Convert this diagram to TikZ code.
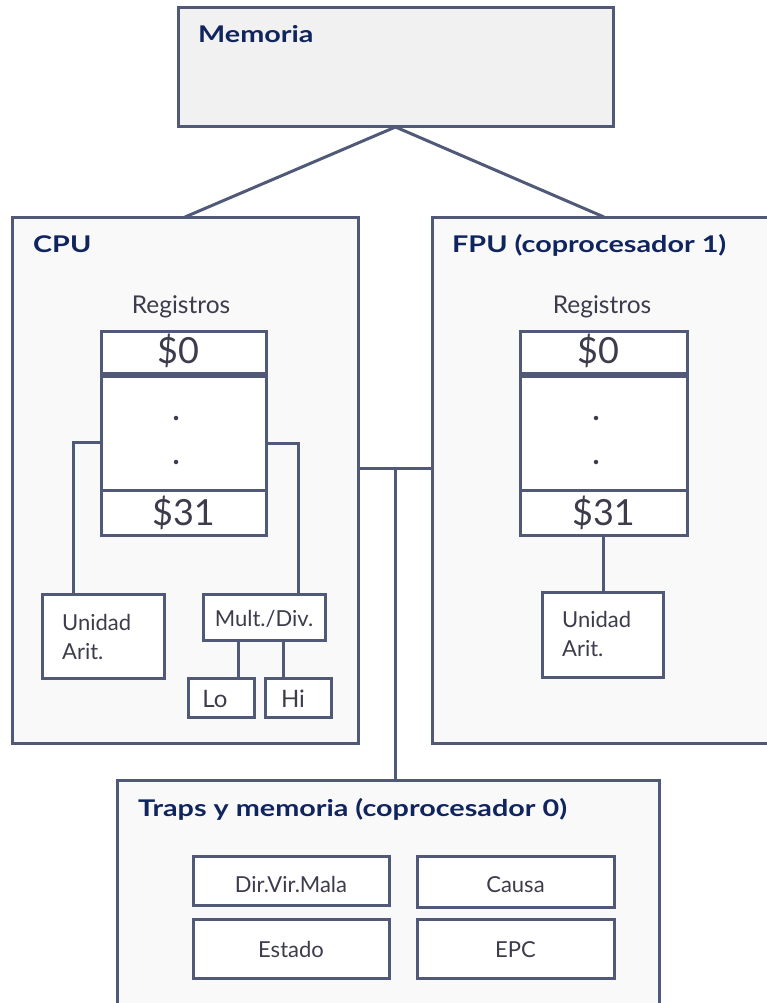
\documentclass[tikz,border=0pt]{standalone}
\usepackage{fontspec}
\setmainfont{Lato}
\newfontfamily\titlefont[FakeStretch=1.25]{Lato}
\definecolor{ln}{HTML}{505A78}
\definecolor{ttl}{HTML}{10245E}
\definecolor{txt}{HTML}{3C3C4C}
\definecolor{outerfill}{HTML}{F9F9FA}
\definecolor{memfill}{HTML}{F1F1F1}
\newcommand\bx[6]{\node[#1, minimum width={#4pt-#2pt}, minimum height={#5pt-#3pt}] (#6) at ({(#2+#4)/2},{(#3+#5)/2}) {};}
\begin{document}
\begin{tikzpicture}[x=1pt,y=-1pt,
  frame/.style={draw=ln, line width=3pt, fill=outerfill, rectangle, inner sep=0pt, outer sep=0pt},
  ibox/.style={draw=ln, line width=3pt, fill=white, rectangle, inner sep=0pt, outer sep=0pt},
  wire/.style={draw=ln, line width=3pt},
  title/.style={anchor=base west, inner sep=0pt, text=ttl, font=\titlefont\fontsize{23}{27}\selectfont\bfseries},
  lbl/.style={inner sep=0pt, text=txt, font=\fontsize{22}{26}\selectfont},
  reglbl/.style={inner sep=0pt, text=txt, font=\fontsize{24.5}{28}\selectfont},
  small/.style={inner sep=0pt, text=txt, font=\fontsize{24}{28}\selectfont},
  big/.style={inner sep=0pt, text=txt, font=\fontsize{36}{40}\selectfont},
  dotmark/.style={circle, fill=txt, inner sep=0pt, minimum size=4.5pt},
]
\useasboundingbox (0,0) rectangle (767,1003);
\clip (0,0) rectangle (767,1003);
% frames
\bx{frame,fill=memfill}{178}{8}{613}{127}{mem}
\bx{frame}{12}{217}{358}{743}{cpu}
\bx{frame}{432}{217}{776}{743}{fpu}
\bx{frame}{117}{780}{659}{1030}{traps}
% connectors
\coordinate (bus) at (395,468);
\coordinate (cl) at (73,442);
\coordinate (cr) at (298,443);
\coordinate (clo) at (238,660);
\coordinate (chi) at (283,660);
\draw[wire] (mem.south) -- (cpu.north);
\draw[wire] (mem.south) -- (fpu.north);
\draw[wire] (cpu.east |- bus) -- (fpu.west |- bus);
\draw[wire] (bus) -- (bus |- traps.north);
% CPU registers
\bx{ibox}{101}{331}{266}{373}{reg0}
\bx{ibox}{101}{376}{266}{490}{regmid}
\bx{ibox}{101}{490}{266}{535}{reg31}
\bx{ibox}{42}{594}{164}{678}{cua}
\bx{ibox}{203}{594}{325}{640}{mult}
\bx{ibox}{188}{678}{254}{717}{lo}
\bx{ibox}{265}{678}{331}{717}{hi}
\draw[wire] (regmid.west |- cl) -- (cl) -- (cl |- cua.north);
\draw[wire] (regmid.east |- cr) -- (cr) -- (cr |- mult.north);
\draw[wire] (clo |- mult.south) -- (clo |- lo.north);
\draw[wire] (chi |- mult.south) -- (chi |- hi.north);
% FPU registers
\bx{ibox}{520}{331}{687}{373}{freg0}
\bx{ibox}{520}{376}{687}{490}{fregmid}
\bx{ibox}{520}{490}{687}{535}{freg31}
\bx{ibox}{542}{592}{663}{677}{fua}
\draw[wire] (freg31.south) -- (freg31.south |- fua.north);
% traps registers
\bx{ibox}{193}{856}{389}{905}{dvm}
\bx{ibox}{417}{856}{614}{907}{causa}
\bx{ibox}{193}{919}{389}{978}{estado}
\bx{ibox}{417}{919}{614}{978}{epc}
% titles
\node[title] (tmem) at (198,43) {Memoria};
\node[title] (tcpu) at (33,252) {CPU};
\node[title] (tfpu) at (452,252) {FPU (coprocesador 1)};
\node[title] (ttraps) at (138,816) {Traps y memoria (coprocesador 0)};
% CPU texts
\node[reglbl, anchor=base] (rcpu) at (181,313) {Registros};
\node[big, anchor=base] (t0) at (178,363) {\$0};
\node[dotmark] (d1) at (176,418) {};
\node[dotmark] (d2) at (176,462) {};
\node[big, anchor=base] (t31) at (183.5,525) {\$31};
\node[lbl, anchor=base west] (u1) at (62,630) {Unidad};
\node[lbl, anchor=base west] (u2) at (62,659) {Arit.};
\node[lbl, anchor=base] (tmult) at (264,626) {Mult./Div.};
\node[small, anchor=base] (tlo) at (215,707) {Lo};
\node[small, anchor=base] (thi) at (293,707) {Hi};
% FPU texts
\node[reglbl, anchor=base] (rfpu) at (602,313) {Registros};
\node[big, anchor=base] (ft0) at (598,363) {\$0};
\node[dotmark] (fd1) at (596,418) {};
\node[dotmark] (fd2) at (596,462) {};
\node[big, anchor=base] (ft31) at (603.5,525) {\$31};
\node[lbl, anchor=base west] (fu1) at (562,627) {Unidad};
\node[lbl, anchor=base west] (fu2) at (562,656) {Arit.};
% traps texts
\node[lbl, anchor=base] (tdvm) at (291,892) {Dir.Vir.Mala};
\node[lbl, anchor=base] (tcausa) at (515.5,892) {Causa};
\node[lbl, anchor=base] (testado) at (291,957) {Estado};
\node[lbl, anchor=base] (tepc) at (515.5,957) {EPC};
\end{tikzpicture}
\end{document}
